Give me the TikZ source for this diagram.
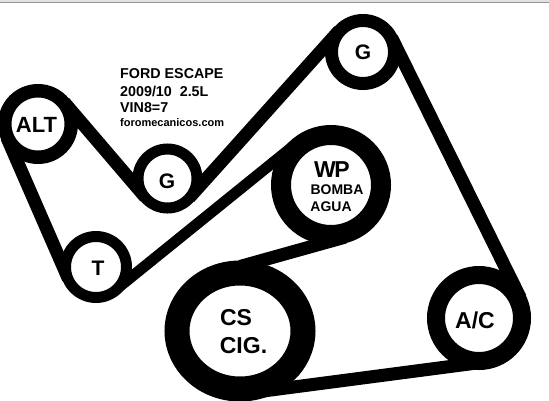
\documentclass[tikz,border=0pt]{standalone}
\usepackage{fontspec}
\setmainfont{Liberation Sans}
\usetikzlibrary{shapes.geometric,backgrounds}
\definecolor{toprule}{RGB}{150,150,150}
\definecolor{topshade}{RGB}{225,225,225}
\tikzset{
	pulley/.style 2 args={circle,draw=black,fill=white,inner sep=0pt,
		minimum size=#1 pt,line width=#2 pt,outer sep={0.5*#2 pt-6pt}},
	crank/.style={ellipse,draw=black,fill=white,inner sep=0pt,
		minimum width=126pt,minimum height=116pt,line width=25pt,outer sep={6.5pt}},
	belt/.style={draw=black,line width=13pt},
	thinbelt/.style={draw=black,line width=11pt},
	tag/.style={inner sep=0pt,font=\bfseries\fontsize{#1}{#1}\selectfont},
	title/.style={anchor=base west,inner sep=0pt,font=\bfseries\fontsize{14.3}{16}\selectfont},
}
\begin{document}
\begin{tikzpicture}[x=1pt,y=-1pt]
	\useasboundingbox (0,0) rectangle (549,400);
	\fill[topshade] (0,0) rectangle (549,1.5);
	\fill[toprule] (0,1.5) rectangle (549,3);
	\node[pulley={66.5}{13.5}] (alt) at (38,124) {};
	\node[pulley={59}{11}] (gidler) at (167.5,178.5) {};
	\node[pulley={61}{11}] (tens) at (96,267) {};
	\node[pulley={63}{13}] (gtop) at (363,52) {};
	\node[pulley={100}{20}] (wp) at (331,185) {};
	\node[pulley={86}{18}] (ac) at (479,318) {};
	\node[crank] (cs) at (240,331) {};
	\node[tag=22] (altname) at (36.5,125) {ALT};
	\node[tag=21] (gidlername) at (167,181) {G};
	\node[tag=21] (tensname) at (98,268) {T};
	\node[tag=21] (gtopname) at (363,52) {G};
	\node[tag=23] (wpname) at (332,170) {W\kern-1.5pt P};
	\node[tag=14] (bomba) at (337,190) {BOMBA};
	\node[tag=14] (agua) at (331,207) {AGUA};
	\node[tag=23] (acname) at (475,320) {A/C};
	\node[tag=23] (csname) at (236,318) {CS};
	\node[tag=23] (ciga) at (243.5,346) {CIG.};
	\node[title] (ford) at (120,78) {FORD ESCAPE};
	\node[title] (year) at (120,96) {2009/10\ \ 2.5L};
	\node[title] (vin) at (120,112) {VIN8=7};
	\node[title,font=\bfseries\fontsize{11}{13}\selectfont] (web) at (120,126) {foromecanicos.com};
	\begin{pgfonlayer}{background}
		\draw[belt] (alt.40.6) -- (gidler.220.6);
		\draw[belt] (gidler.-41.9) -- (gtop.138.1);
		\draw[belt] (gtop.26.4) -- (ac.26.4);
		\draw[belt] (ac.262.6) -- (cs.263);
		\draw[belt] (cs.90) -- (wp.285.8);
		\draw[thinbelt] (tens.-51.1) -- (wp.128.9);
		\draw[belt] (alt.203.6) -- (tens.203.6);
	\end{pgfonlayer}
\end{tikzpicture}
\end{document}
